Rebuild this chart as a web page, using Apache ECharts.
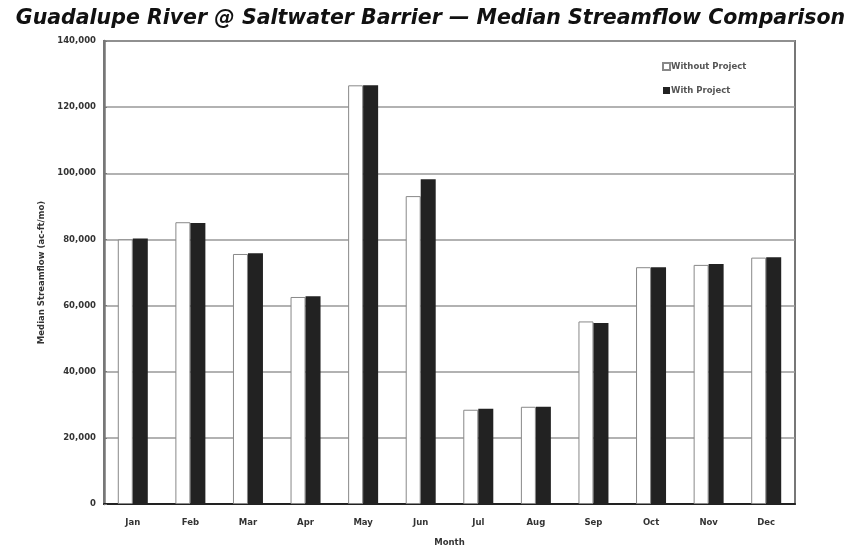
<!DOCTYPE html>
<html>
<head>
<meta charset="utf-8">
<script src="https://cdn.jsdelivr.net/npm/echarts@6/dist/echarts.min.js"></script>
<style>
html,body{margin:0;padding:0;background:#fff;}
#c{width:861px;height:548px;}
</style>
</head>
<body>
<div id="c"></div>
<script>
var months = ['Jan','Feb','Mar','Apr','May','Jun','Jul','Aug','Sep','Oct','Nov','Dec'];
var withoutProject = [80000, 85200, 75600, 62600, 126600, 93100, 28500, 29400, 55200, 71600, 72300, 74500];
var withProject = [80300, 85000, 75800, 62800, 126600, 98200, 28800, 29400, 54700, 71600, 72600, 74600];
var yTicks = [0, 20000, 40000, 60000, 80000, 100000, 120000, 140000];

var chart = echarts.init(document.getElementById('c'), null, {renderer:'canvas'});
var FF = 'DejaVu Sans';
var lab = {fontFamily:FF, fontSize:8.5, color:'#333', fontWeight:'bold'};
chart.setOption({
  animation:false,
  backgroundColor:'#fff',
  title:{
    text:'Guadalupe River @ Saltwater Barrier \u2014 Median Streamflow Comparison',
    left:'center', top:4,
    textStyle:{fontFamily:FF, fontSize:20.5, fontWeight:'bold', fontStyle:'italic', color:'#111'}
  },
  legend:{
    orient:'vertical', left:657, top:57, itemGap:15,
    itemWidth:7, itemHeight:7, icon:'rect',
    textStyle:{fontFamily:FF, fontSize:8.5, fontWeight:'bold', color:'#555', padding:[0,0,0,-4]},
    data:['Without Project','With Project']
  },
  grid:{left:104, right:66, top:41, bottom:44, show:true, borderColor:'#777', borderWidth:2, outerBoundsMode:'none', containLabel:false},
  xAxis:{
    type:'category', data:months,
    name:'Month', nameLocation:'middle', nameGap:34,
    nameTextStyle:{fontFamily:FF, fontSize:8.5, fontWeight:'bold', color:'#333'},
    axisLine:{lineStyle:{color:'#222', width:2}},
    axisTick:{show:false},
    axisLabel:Object.assign({margin:14}, lab)
  },
  yAxis:{
    type:'value', min:yTicks[0], max:yTicks[yTicks.length-1], interval:20000,
    name:'Median Streamflow (ac-ft/mo)', nameLocation:'middle', nameGap:58, nameRotate:90,
    nameTextStyle:{fontFamily:FF, fontSize:8.5, fontWeight:'bold', color:'#333'},
    axisLine:{show:true, lineStyle:{color:'#777', width:2.5}},
    axisTick:{show:true, length:3, inside:true, lineStyle:{color:'#777'}},
    splitLine:{lineStyle:{color:'#999', width:1.5}},
    axisLabel:Object.assign({margin:8, formatter:function(v){return v.toLocaleString('en-US');}}, lab)
  },
  series:[
    {name:'Without Project', type:'bar', data:withoutProject, barWidth:15, barGap:'0%',
     itemStyle:{color:'#fff', borderColor:'#888', borderWidth:1}},
    {name:'With Project', type:'bar', data:withProject, barWidth:15, barGap:'0%',
     itemStyle:{color:'#222', borderColor:'#222', borderWidth:0}}
  ]
});
</script>
</body>
</html>
